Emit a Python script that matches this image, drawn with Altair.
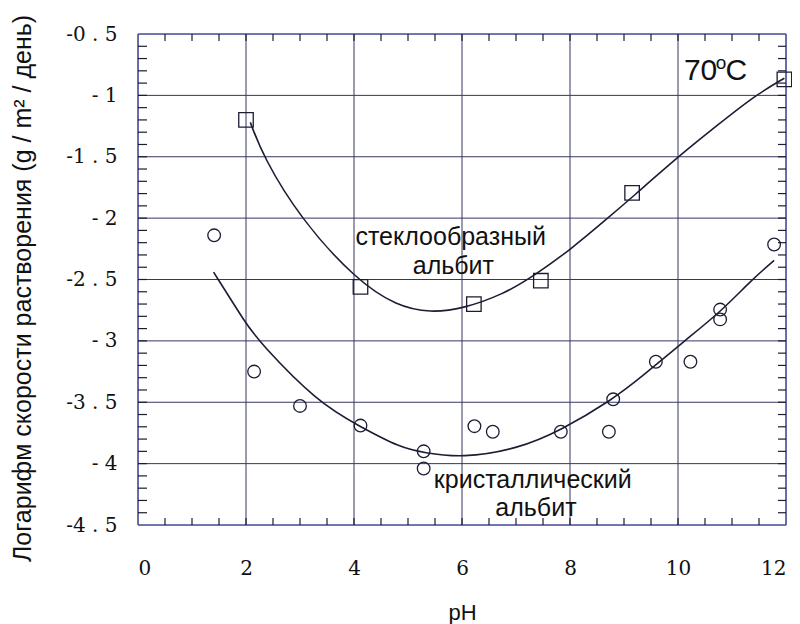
import altair as alt
import pandas as pd

# measured points: glassy albite (squares)
glass_ph = [2.00, 4.12, 6.22, 7.46, 9.15, 11.97]
glass_log = [-1.20, -2.56, -2.70, -2.51, -1.795, -0.87]

# measured points: crystalline albite (circles)
cryst_ph = [1.41, 2.15, 3.00, 4.12, 5.29, 5.29, 6.23, 6.57, 7.83, 8.72, 8.80, 9.59, 10.23, 10.78, 10.78, 11.78]
cryst_log = [-2.14, -3.25, -3.53, -3.69, -3.90, -4.04, -3.695, -3.74, -3.74, -3.74, -3.476, -3.17, -3.17, -2.745, -2.825, -2.215]

# fitted curves
glass_fit_ph = [2.08, 2.32, 3.00, 4.03, 4.80, 5.42, 6.00, 6.77, 7.33, 8.00, 8.70, 9.15, 10.00, 10.74, 11.43, 11.97]
glass_fit_log = [-1.22, -1.50, -2.00, -2.50, -2.72, -2.77, -2.74, -2.62, -2.47, -2.26, -2.00, -1.83, -1.50, -1.24, -1.00, -0.86]

cryst_fit_ph = [1.40, 2.00, 2.23, 3.32, 4.12, 4.86, 5.29, 6.00, 7.03, 7.83, 8.78, 9.31, 10.12, 10.80, 11.37, 11.78]
cryst_fit_log = [-2.44, -2.86, -3.00, -3.50, -3.70, -3.87, -3.91, -3.955, -3.88, -3.73, -3.48, -3.30, -3.00, -2.76, -2.50, -2.345]

# axis ticks
x_major = [0, 2, 4, 6, 8, 10, 12]
y_major = [-4.5, -4.0, -3.5, -3.0, -2.5, -2.0, -1.5, -1.0, -0.5]
x_grid = [2, 4, 6, 8, 10]
y_grid = [-4.0, -3.5, -3.0, -2.5, -2.0, -1.5, -1.0]
x_minor = [i * 0.5 for i in range(1, 24)]
y_minor = [round(-4.5 + i * 0.1, 2) for i in range(1, 40)]

# annotations
label_text = ["стеклообразный", "альбит", "кристаллический", "альбит"]
label_x = [5.79, 5.84, 7.31, 7.37]
label_y = [-2.15, -2.386, -4.134, -4.36]

W, H = 648, 491
LINE = "#1c1c34"
GRID = "#363660"
FRAME = "#4b4b9a"

xs = alt.Scale(domain=[0, 12], nice=False, zero=False)
ys = alt.Scale(domain=[-4.5, -0.5], nice=False, zero=False)

x_axis = alt.Axis(
    values=x_major, title="pH", grid=False, ticks=False, domain=False,
    labelFont="DejaVu Serif", labelFontSize=20, labelPadding=33, labelColor="#111",
    titleFont="Liberation Sans", titleFontSize=22, titleFontWeight="normal", titlePadding=24,
    titleColor="#111")
y_axis = alt.Axis(
    values=y_major, title="Логарифм скорости растворения (g / m² / день)", grid=False,
    ticks=False, domain=False,
    labelExpr="datum.value == floor(datum.value) ? '- ' + abs(datum.value) : '-' + floor(abs(datum.value)) + ' . 5'",
    labelFont="DejaVu Serif", labelFontSize=20, labelPadding=21, labelColor="#111",
    titleFont="Liberation Sans", titleFontSize=25, titleFontWeight="normal",
    titleX=-116, titleY=254, titleBaseline="middle", titleAlign="center", titleAngle=270,
    titleColor="#111")


def X(f):
    return alt.X(f, scale=xs, axis=x_axis)


def Y(f):
    return alt.Y(f, scale=ys, axis=y_axis)


glass = pd.DataFrame({"pH": glass_ph, "v": glass_log})
cryst = pd.DataFrame({"pH": cryst_ph, "v": cryst_log})
gfit = pd.DataFrame({"pH": glass_fit_ph, "v": glass_fit_log})
cfit = pd.DataFrame({"pH": cryst_fit_ph, "v": cryst_fit_log})
xm = pd.DataFrame({"pH": x_minor})
ym = pd.DataFrame({"v": y_minor})
xg = pd.DataFrame({"pH": x_grid})
yg = pd.DataFrame({"v": y_grid})
labels = pd.DataFrame({"pH": label_x, "v": label_y, "text": label_text})
one = pd.DataFrame({"a": [0]})

grid_v = alt.Chart(xg).mark_rule(color=GRID, strokeWidth=1).encode(
    x=X("pH:Q"), y=alt.value(0), y2=alt.value(H))
grid_h = alt.Chart(yg).mark_rule(color=GRID, strokeWidth=1).encode(
    y=Y("v:Q"), x=alt.value(0), x2=alt.value(W))

frame_parts = [
    alt.Chart(one).mark_rule(color=FRAME, strokeWidth=1.6).encode(x=alt.value(0), x2=alt.value(W), y=alt.value(0)),
    alt.Chart(one).mark_rule(color=FRAME, strokeWidth=1.6).encode(x=alt.value(0), x2=alt.value(W), y=alt.value(H)),
    alt.Chart(one).mark_rule(color=FRAME, strokeWidth=1.6).encode(y=alt.value(0), y2=alt.value(H), x=alt.value(0)),
    alt.Chart(one).mark_rule(color=FRAME, strokeWidth=1.6).encode(y=alt.value(0), y2=alt.value(H), x=alt.value(W)),
]

glass_pts = alt.Chart(glass).mark_point(shape="square", size=210, filled=False, stroke=LINE,
                                        strokeWidth=1.3, opacity=1).encode(x=X("pH:Q"), y=Y("v:Q"))
cryst_pts = alt.Chart(cryst).mark_point(shape="circle", size=160, filled=False, stroke=LINE,
                                        strokeWidth=1.3, opacity=1).encode(x=X("pH:Q"), y=Y("v:Q"))
gline = alt.Chart(gfit).mark_line(color=LINE, strokeWidth=1.6, interpolate="basis").encode(
    x=X("pH:Q"), y=Y("v:Q"))
cline = alt.Chart(cfit).mark_line(color=LINE, strokeWidth=1.6, interpolate="basis").encode(
    x=X("pH:Q"), y=Y("v:Q"))

tick_bottom = alt.Chart(xm).mark_rule(color=LINE, strokeWidth=1.2).encode(
    x=X("pH:Q"), y=alt.value(H), y2=alt.value(H - 7))
tick_top = alt.Chart(xm).mark_rule(color=LINE, strokeWidth=1.2).encode(
    x=X("pH:Q"), y=alt.value(0), y2=alt.value(7))
tick_left = alt.Chart(ym).mark_rule(color=LINE, strokeWidth=1.2).encode(
    y=Y("v:Q"), x=alt.value(0), x2=alt.value(9))
tick_right = alt.Chart(ym).mark_rule(color=LINE, strokeWidth=1.2).encode(
    y=Y("v:Q"), x=alt.value(W), x2=alt.value(W - 8))

ann = alt.Chart(labels).mark_text(font="Liberation Sans", fontSize=25, color="#111",
                                  align="center", baseline="middle").encode(
    x=X("pH:Q"), y=Y("v:Q"), text="text:N")

temp = pd.DataFrame({"pH": [10.11, 10.70, 10.88], "v": [-0.80, -0.735, -0.80],
                     "text": ["70", "o", "C"], "fs": [30, 19, 30]})
temp_txt = alt.Chart(temp).mark_text(font="Liberation Sans", color="#111", align="left",
                                     baseline="middle").encode(
    x=X("pH:Q"), y=Y("v:Q"), text="text:N",
    size=alt.Size("fs:Q", scale=None, legend=None))

chart = alt.layer(
    grid_v, grid_h, *frame_parts, tick_bottom, tick_top, tick_left, tick_right,
    gline, cline, glass_pts, cryst_pts, ann, temp_txt
).properties(
    width=W, height=H,
    autosize=alt.AutoSizeParams(type="none"),
    padding={"left": 130, "top": 26, "right": 6, "bottom": 100},
).configure_view(
    stroke=None
).configure(background="white")

chart.save("out.html", embed_options={"renderer": "svg", "actions": False})
